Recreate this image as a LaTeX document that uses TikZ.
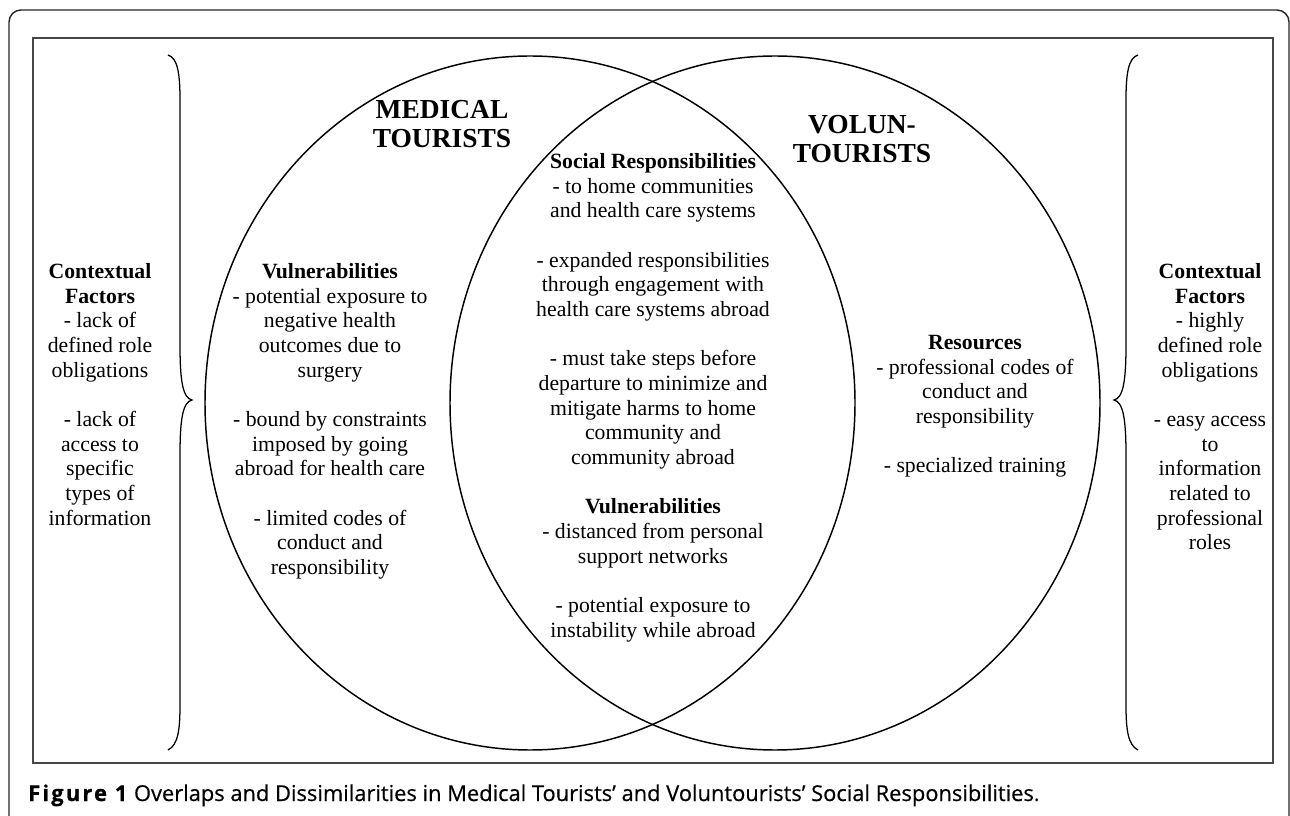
\documentclass[tikz,border=0pt]{standalone}
\usepackage{fontspec}
\setmainfont{Liberation Serif}
\newfontfamily\capfont{Open Sans}
\newfontfamily\capfig[LetterSpace=10,FakeBold=0.8]{Open Sans}
\newfontfamily\capsemi[FakeBold=0.5]{Open Sans}
\usepackage{tikz}
\usetikzlibrary{positioning,shapes.geometric}

\begin{document}
\begin{tikzpicture}[
  x=0.75pt,y=-0.75pt,
  frame/.style={line width=1.1pt,draw=black!85},
  panel/.style={line width=1.6pt,draw=black!72},
  circ/.style={ellipse,draw,line width=1.1pt,minimum width=487.5pt,minimum height=520.5pt,inner sep=0pt},
  brace/.style={line width=0.95pt},
  body/.style={align=center,inner sep=0pt,anchor=north,font=\fontsize{16.3}{18.5}\selectfont},
  title/.style={align=center,inner sep=0pt,anchor=north,font=\fontsize{20.6}{21.8}\selectfont\bfseries}
]
\useasboundingbox (0,0) rectangle (1290,816);
\draw[frame,rounded corners=9pt] (9,816) -- (9,10) -- (1289,10) -- (1289,816);
\draw[panel] (33,38) rectangle (1273,763);

% the two sets
\node[circ] (med) at (530,403) {};
\node[circ] (vol) at (775,403) {};

% braces round the sets
\foreach \m in {1,-1}
  \draw[brace,shift={(653,0)},xscale=\m] (-485,55) .. controls (-475,58) and (-473,75) .. (-473,100)
    -- (-473,345) .. controls (-473,382) and (-470,398) .. (-461,400)
    .. controls (-470,402) and (-473,418) .. (-473,455) -- (-473,705)
    .. controls (-473,730) and (-475,745) .. (-485,750);

\node[title] (medt) at (442,100) {MEDICAL\\TOURISTS};
\node[title] (volt) at (862,115) {VOLUN-\\TOURISTS};

\node[body] (lctx) at (100,263) {\textbf{Contextual}\\\textbf{Factors}\\- lack of\\defined role\\obligations\\[18.5pt]- lack of\\access to\\specific\\types of\\information};
\node[body] (rctx) at (1210,263) {\textbf{Contextual}\\\textbf{Factors}\\- highly\\defined role\\obligations\\[18.5pt]- easy access\\to\\information\\related to\\professional\\roles};

\node[body] (mvul) at (330,263) {\textbf{Vulnerabilities}\\- potential exposure to\\negative health\\outcomes due to\\surgery\\[18.5pt]- bound by constraints\\imposed by going\\abroad for health care\\[18.5pt]- limited codes of\\conduct and\\responsibility};

\node[body] (lens) at (653,153) {\textbf{Social Responsibilities}\\- to home communities\\and health care systems\\[18.5pt]- expanded responsibilities\\through engagement with\\health care systems abroad\\[18.5pt]- must take steps before\\departure to minimize and\\mitigate harms to home\\community and\\community abroad\\[18.5pt]\textbf{Vulnerabilities}\\- distanced from personal\\support networks\\[18.5pt]- potential exposure to\\instability while abroad};

\node[body] (vres) at (975,335) {\textbf{Resources}\\- professional codes of\\conduct and\\responsibility\\[18.5pt]- specialized training};

\node[anchor=base west,inner sep=0pt,font=\fontsize{16.4}{18}\selectfont] (cap) at (28,801)
  {{\capfig\bfseries Figure 1}\hspace{5pt}{\capsemi Overlaps and Dissimilarities in Medical Tourists’ and Voluntourists’ Social Responsibilities}{\capfont .}};
\end{tikzpicture}
\end{document}
